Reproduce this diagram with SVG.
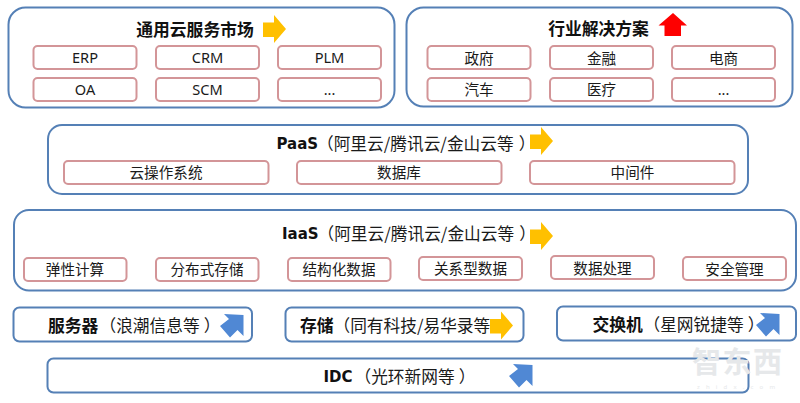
<svg xmlns="http://www.w3.org/2000/svg" width="800" height="403" viewBox="0 0 800 403">
<style>
text{font-family:"Noto Sans","Noto Sans CJK SC",sans-serif;fill:#1a1a1a}
.o{fill:#fff;stroke:#5580b6;stroke-width:2}
.i{fill:#fff;stroke:#d39598;stroke-width:2}
.t{font-family:"Noto Sans CJK SC",sans-serif;font-size:16.800px;font-weight:700;text-anchor:middle;fill:#111}
.c{font-size:14.600px;text-anchor:middle;font-family:"Noto Sans","Noto Sans CJK SC",sans-serif}
.h{font-size:16.700px;font-family:"Noto Sans CJK SC",sans-serif}
.b{font-family:"DejaVu Sans","Noto Sans CJK SC",sans-serif;font-weight:700;font-size:15px;fill:#111}
.m{font-family:"Noto Sans CJK SC",sans-serif;font-weight:700;font-size:16.800px;fill:#111}
.y{fill:#ffc000}.u{fill:#5088d4}.r{fill:#fe0000}
.w{font-family:"Noto Sans CJK SC",sans-serif;font-weight:700;fill:#e6e8ea}
</style>
<defs>
<polygon id="ya" class="y" points="0,7.500 11,7.500 11,0 23,14 11,28 11,22 0,22"/>
<polygon id="ba" class="u" points="4,-1 23.500,0 23.500,21 17.500,15 10,22.500 0,11 9,4"/>
</defs>
<rect width="800" height="403" fill="#fff"/>

<g id="market">
<rect class="o" x="8.500" y="7.500" width="386" height="100" rx="17"/>
<text class="t" x="195" y="36">通用云服务市场</text>
<use href="#ya" x="263" y="15"/>
<rect class="i" x="33.500" y="46" width="103" height="23" rx="4"/><text class="c" x="85" y="63">ERP</text>
<rect class="i" x="156" y="46" width="103" height="23" rx="4"/><text class="c" x="207.500" y="63">CRM</text>
<rect class="i" x="278" y="46" width="103" height="23" rx="4"/><text class="c" x="329.500" y="63">PLM</text>
<rect class="i" x="33.500" y="78" width="103" height="23" rx="4"/><text class="c" x="85" y="95">OA</text>
<rect class="i" x="156" y="78" width="103" height="23" rx="4"/><text class="c" x="207.500" y="95">SCM</text>
<rect class="i" x="278" y="78" width="103" height="23" rx="4"/><text class="c" x="329.500" y="95">...</text>
</g>

<g id="industry">
<rect class="o" x="406.500" y="7.500" width="386" height="99" rx="17"/>
<text class="t" x="598.500" y="35">行业解决方案</text>
<polygon class="r" points="658.500,25.500 673,13 687,25.500 681,25.500 681,36 664.500,36 664.500,25.500"/>
<rect class="i" x="427.500" y="46" width="103" height="23" rx="4"/><text class="c" x="479" y="64">政府</text>
<rect class="i" x="550" y="46" width="103" height="23" rx="4"/><text class="c" x="601.500" y="64">金融</text>
<rect class="i" x="672" y="46" width="103" height="23" rx="4"/><text class="c" x="723.500" y="64">电商</text>
<rect class="i" x="427.500" y="78" width="103" height="23" rx="4"/><text class="c" x="479" y="95">汽车</text>
<rect class="i" x="550" y="78" width="103" height="23" rx="4"/><text class="c" x="601.500" y="95">医疗</text>
<rect class="i" x="672" y="78" width="103" height="23" rx="4"/><text class="c" x="723.500" y="95">...</text>
</g>

<g id="paas">
<rect class="o" x="48" y="125" width="700" height="69" rx="14"/>
<text class="b" x="276.500" y="149">PaaS</text>
<text class="h" x="317" y="150">（阿里云/腾讯云/金山云等<tspan dx="5">）</tspan></text>
<use href="#ya" x="530" y="127"/>
<rect class="i" x="64" y="161" width="204.500" height="23" rx="4"/><text class="c" x="166" y="178">云操作系统</text>
<rect class="i" x="297" y="161" width="204.500" height="23" rx="4"/><text class="c" x="399" y="178">数据库</text>
<rect class="i" x="530" y="161" width="204.500" height="23" rx="4"/><text class="c" x="632.500" y="178">中间件</text>
</g>

<g id="iaas">
<rect class="o" x="14" y="210" width="782" height="80.500" rx="15"/>
<text class="b" x="282" y="239">IaaS</text>
<text class="h" x="317.500" y="240">（阿里云/腾讯云/金山云等<tspan dx="5">）</tspan></text>
<use href="#ya" x="530" y="222"/>
<rect class="i" x="24" y="258" width="102.500" height="23" rx="4"/><text class="c" x="75" y="275">弹性计算</text>
<rect class="i" x="156" y="258" width="102.500" height="23" rx="4"/><text class="c" x="207" y="275">分布式存储</text>
<rect class="i" x="288" y="258" width="102.500" height="23" rx="4"/><text class="c" x="339" y="275">结构化数据</text>
<rect class="i" x="419" y="257" width="103" height="23" rx="4"/><text class="c" x="470.500" y="274">关系型数据</text>
<rect class="i" x="551" y="256" width="103" height="23" rx="4"/><text class="c" x="602.500" y="274">数据处理</text>
<rect class="i" x="683" y="257" width="103" height="23" rx="4"/><text class="c" x="734.500" y="275">安全管理</text>
</g>

<g id="server">
<rect class="o" x="13.500" y="307.500" width="238.500" height="34" rx="6"/>
<text class="m" x="48" y="332">服务器</text>
<text class="h" x="99.500" y="332">（浪潮信息等<tspan dx="4">）</tspan></text>
<use href="#ba" x="220" y="315"/>
</g>

<g id="storage">
<rect class="o" x="285.500" y="307.500" width="238" height="34" rx="6"/>
<text class="m" x="300" y="332">存储</text>
<text class="h" x="333.500" y="332">（同有科技/易华录等</text>
<use href="#ya" x="490" y="311.500"/>
</g>

<g id="switch">
<rect class="o" x="557" y="306.500" width="239" height="34" rx="6"/>
<text class="m" x="592.500" y="331">交换机</text>
<text class="h" x="643.500" y="331">（星网锐捷等<tspan dx="4">）</tspan></text>
<use href="#ba" x="756" y="314"/>
</g>

<g id="idc">
<rect class="o" x="47.500" y="358.500" width="701" height="34" rx="6"/>
<text class="b" x="323.500" y="382">IDC</text>
<text class="h" x="354.500" y="383">（光环新网等<tspan dx="4">）</tspan></text>
<use href="#ba" x="509" y="365"/>
</g>

<g id="watermark">
<text class="w" x="692" y="373" font-size="29" textLength="90">智东西</text>
<text x="697" y="389" font-size="6" style="fill:#e6e8ea" textLength="78">zhidx.com</text>
</g>
</svg>
